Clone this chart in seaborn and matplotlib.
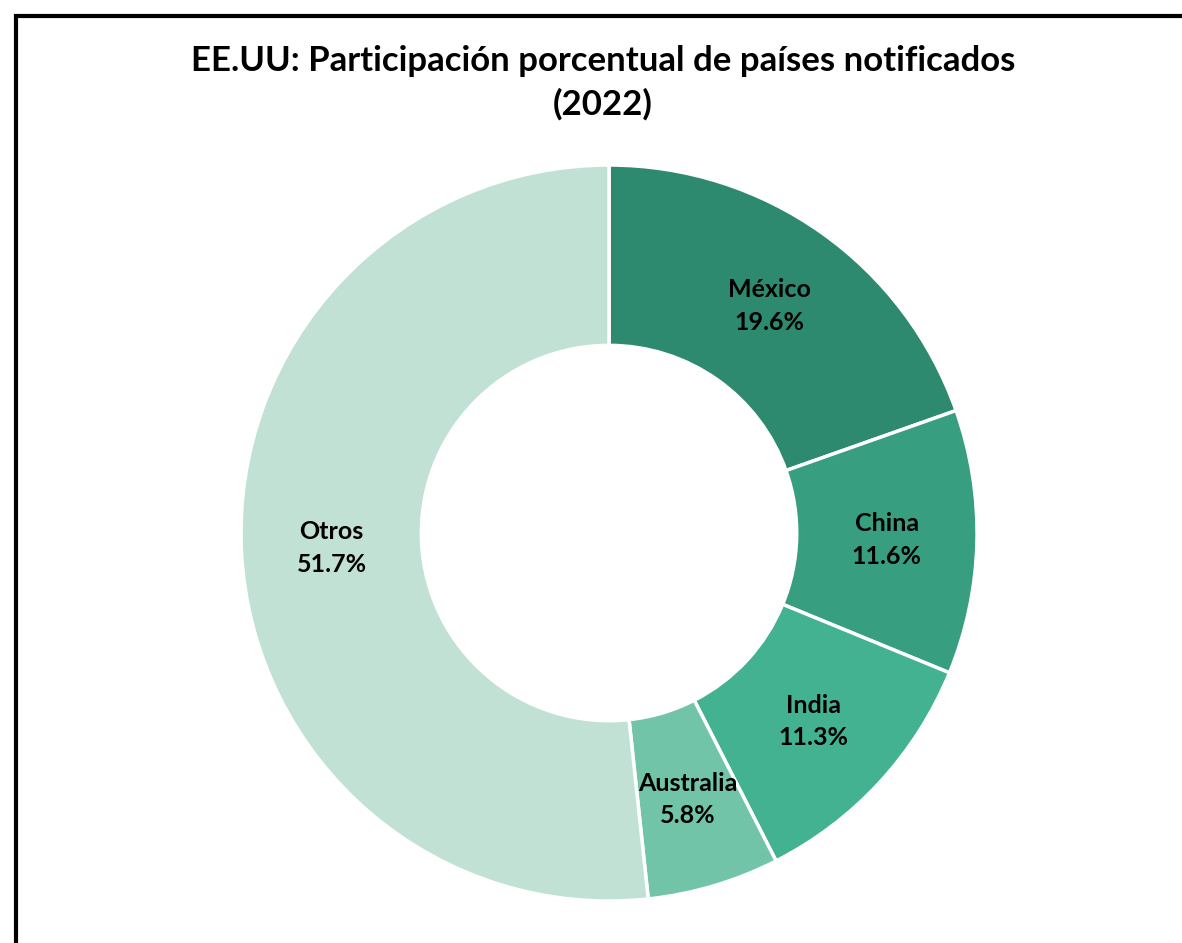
import numpy as np
import seaborn as sns
import matplotlib.pyplot as plt
from matplotlib.patches import Rectangle

# data
paises = ['México', 'China', 'India', 'Australia', 'Otros']
participacion = [19.6, 11.6, 11.3, 5.8, 51.7]
colores = ['#2E8A6E', '#389E80', '#42B290', '#72C4A8', '#C1E1D5']

sns.set_theme(style='white')
plt.rcParams['font.family'] = ['Lato', 'DejaVu Sans']

fig = plt.figure(figsize=(11.82, 9.43), dpi=100)
ax = fig.add_axes([0.2039, 0.0445, 0.6227, 0.7805])

wedges, _ = ax.pie(participacion, colors=colores, startangle=90, counterclock=False,
                   radius=1.0, wedgeprops=dict(width=0.49, edgecolor='white', linewidth=2.5))
ax.set_xlim(-1, 1)
ax.set_ylim(-1, 1)
ax.set_aspect('equal')

# labels in the middle of each ring segment
for w, name, val in zip(wedges, paises, participacion):
    ang = np.deg2rad((w.theta1 + w.theta2) / 2)
    r = 0.755
    ax.text(r * np.cos(ang), r * np.sin(ang), f'{name}\n{val:.1f}%',
            ha='center', va='center', fontsize=18, fontweight='bold',
            color='black', linespacing=1.5)

fig.text(0.51, 1 - 83 / 943, 'EE.UU: Participación porcentual de países notificados\n(2022)',
         ha='center', va='center', fontsize=25, fontweight='bold', color='black',
         linespacing=1.42)

# chart border (cropped at right and bottom)
fig.patches.append(Rectangle((16 / 1182, -0.1), 1.2, 1.1 - 16 / 943, transform=fig.transFigure,
                             fill=False, edgecolor='black', linewidth=3, clip_on=False))

plt.savefig('out.png', dpi=100)
